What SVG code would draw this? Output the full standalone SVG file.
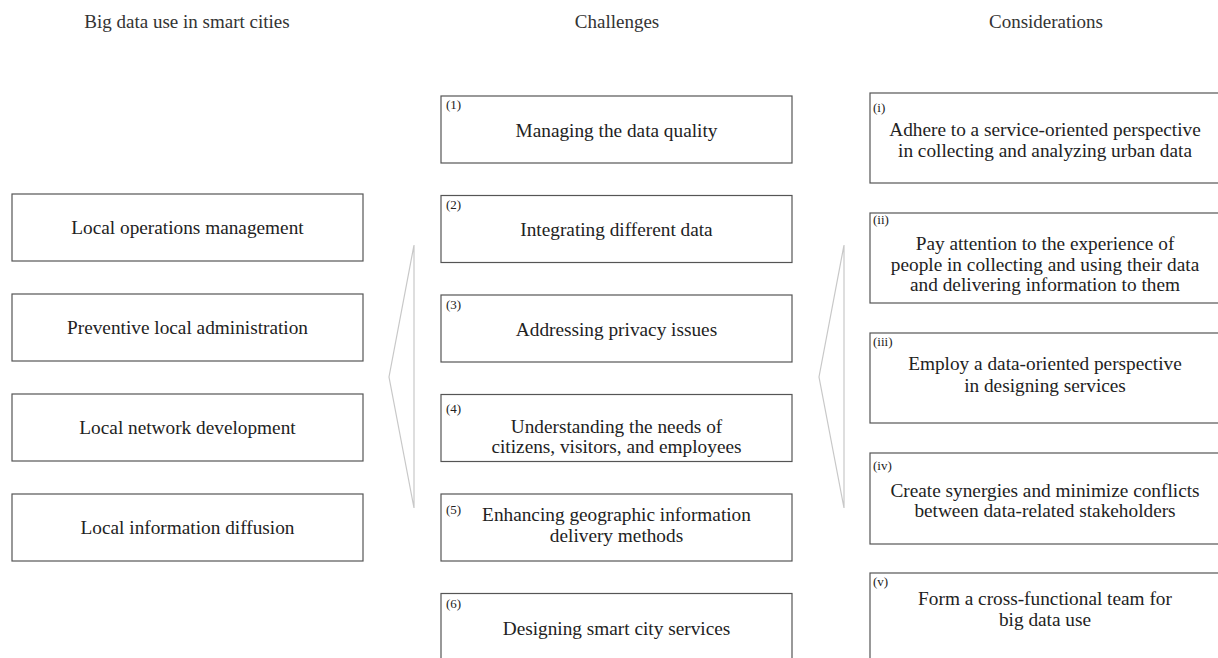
<svg xmlns="http://www.w3.org/2000/svg" width="1218" height="658" viewBox="0 0 1218 658">
<style>
.box{fill:#fff;stroke:#555;stroke-width:1.2}
.t{font-family:"Liberation Serif","Times New Roman",serif;font-size:19.3px;fill:#222;text-anchor:middle}
.h{font-family:"Liberation Serif","Times New Roman",serif;font-size:19px;fill:#333;text-anchor:middle}
.n{font-family:"Liberation Serif","Times New Roman",serif;font-size:13px;fill:#222}
.br{fill:none;stroke:#c8c8c8;stroke-width:1.2}
</style>
<rect width="1218" height="658" fill="#fff"/>
<g id="headers">
<text class="h" x="187" y="28">Big data use in smart cities</text>
<text class="h" x="617" y="28">Challenges</text>
<text class="h" x="1046" y="28">Considerations</text>
</g>
<g id="connectors">
<polyline class="br" points="414,245 389,377 414,508 414,245"/>
<polyline class="br" points="844,245 819,377 844,508 844,245"/>
</g>
<g id="use1"><rect class="box" x="12" y="194" width="351" height="67"/><text class="t" x="187.5" y="234">Local operations management</text></g>
<g id="use2"><rect class="box" x="12" y="294" width="351" height="67"/><text class="t" x="187.5" y="334">Preventive local administration</text></g>
<g id="use3"><rect class="box" x="12" y="394" width="351" height="67"/><text class="t" x="187.5" y="434">Local network development</text></g>
<g id="use4"><rect class="box" x="12" y="494" width="351" height="67"/><text class="t" x="187.5" y="534">Local information diffusion</text></g>

<g id="ch1"><rect class="box" x="441" y="96" width="351" height="67"/><text class="n" x="446" y="109">(1)</text><text class="t" x="616.5" y="137">Managing the data quality</text></g>
<g id="ch2"><rect class="box" x="441" y="195.5" width="351" height="67"/><text class="n" x="446" y="209">(2)</text><text class="t" x="616.5" y="236">Integrating different data</text></g>
<g id="ch3"><rect class="box" x="441" y="295" width="351" height="67"/><text class="n" x="446" y="309">(3)</text><text class="t" x="616.5" y="336">Addressing privacy issues</text></g>
<g id="ch4"><rect class="box" x="441" y="394.5" width="351" height="67"/><text class="n" x="446" y="413">(4)</text><text class="t" x="616.5" y="433">Understanding the needs of</text><text class="t" x="616.5" y="453">citizens, visitors, and employees</text></g>
<g id="ch5"><rect class="box" x="441" y="494" width="351" height="67"/><text class="n" x="446" y="514">(5)</text><text class="t" x="616.5" y="521">Enhancing geographic information</text><text class="t" x="616.5" y="542">delivery methods</text></g>
<g id="ch6"><rect class="box" x="441" y="593.5" width="351" height="80"/><text class="n" x="446" y="608">(6)</text><text class="t" x="616.5" y="635">Designing smart city services</text></g>

<g id="c1"><rect class="box" x="870" y="93" width="360" height="90"/><text class="n" x="873" y="112">(i)</text><text class="t" x="1045" y="136">Adhere to a service-oriented perspective</text><text class="t" x="1045" y="157">in collecting and analyzing urban data</text></g>
<g id="c2"><rect class="box" x="870" y="213" width="360" height="90"/><text class="n" x="873" y="224">(ii)</text><text class="t" x="1045" y="250">Pay attention to the experience of</text><text class="t" x="1045" y="271">people in collecting and using their data</text><text class="t" x="1045" y="291">and delivering information to them</text></g>
<g id="c3"><rect class="box" x="870" y="333" width="360" height="90"/><text class="n" x="873" y="346">(iii)</text><text class="t" x="1045" y="370">Employ a data-oriented perspective</text><text class="t" x="1045" y="392">in designing services</text></g>
<g id="c4"><rect class="box" x="870" y="453" width="360" height="91"/><text class="n" x="873" y="470">(iv)</text><text class="t" x="1045" y="497">Create synergies and minimize conflicts</text><text class="t" x="1045" y="517">between data-related stakeholders</text></g>
<g id="c5"><rect class="box" x="870" y="573" width="360" height="100"/><text class="n" x="873" y="586">(v)</text><text class="t" x="1045" y="605">Form a cross-functional team for</text><text class="t" x="1045" y="626">big data use</text></g>
</svg>
